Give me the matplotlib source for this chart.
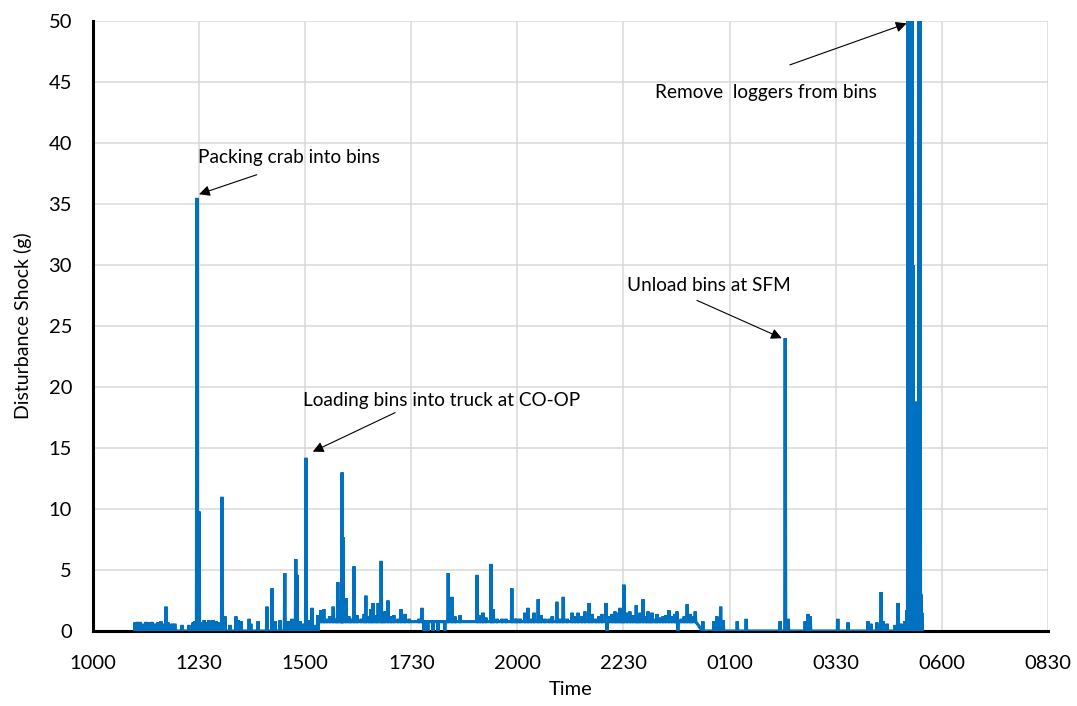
import matplotlib
matplotlib.use("Agg")
import matplotlib.pyplot as plt

plt.rcParams['font.family'] = ['Lato', 'DejaVu Sans']

# time in hours after 10:00 (day 1) -> 0830 next day = 22.5
tick_pos = [0, 2.5, 5, 7.5, 10, 12.5, 15, 17.5, 20, 22.5]
tick_labels = ['1000', '1230', '1500', '1730', '2000', '2230',
               '0100', '0330', '0600', '0830']

# baseline level of the logger between recorded shocks
base_start = [0.99, 5.30, 14.23]
base_end = [5.30, 14.23, 19.54]
base_level = [0.0, 0.77, 0.0]

# recorded shock peaks (hours after 10:00, g)
shock_t = [
    0.99, 1.04, 1.11, 1.16, 1.25, 1.32, 1.39, 1.46, 1.53, 1.60, 1.65, 1.72,
    1.77, 1.86, 1.93, 2.10, 2.26, 2.36, 2.40, 2.45, 2.50, 2.55, 2.62, 2.66,
    2.73, 2.78, 2.83, 2.90, 2.95, 3.04, 3.11, 3.23, 3.37, 3.42, 3.49, 3.68,
    3.72, 3.89, 4.10, 4.22, 4.29, 4.41, 4.52, 4.60, 4.69, 4.78, 4.81, 4.88,
    4.95, 5.02, 5.09, 5.16, 5.23, 5.30,
    5.37, 5.44, 5.51, 5.58, 5.66, 5.73, 5.77, 5.84, 5.87, 5.89, 5.96, 6.03,
    6.08, 6.15, 6.22, 6.32, 6.39, 6.43, 6.50, 6.55, 6.60, 6.67, 6.72, 6.79,
    6.83, 6.88, 6.95, 7.02, 7.09, 7.19, 7.26, 7.35, 7.45, 7.68, 7.75, 7.80,
    7.89, 8.01, 8.13, 8.29, 8.37, 8.46, 8.53, 8.65, 9.05, 9.12, 9.19, 9.26,
    9.38, 9.43, 9.52, 9.64, 9.73, 9.87, 9.94, 9.99, 10.06, 10.18, 10.25,
    10.32, 10.39, 10.49, 10.56, 10.65, 10.75, 10.82, 10.93, 11.00, 11.08,
    11.17, 11.29, 11.36, 11.43, 11.52, 11.59, 11.69, 11.76, 11.85, 11.92,
    11.99, 12.09, 12.11, 12.16, 12.23, 12.30, 12.35, 12.42, 12.47, 12.51,
    12.58, 12.65, 12.72, 12.80, 12.84, 12.89, 12.96, 13.03, 13.08, 13.13,
    13.17, 13.24, 13.29, 13.36, 13.43, 13.50, 13.57, 13.64, 13.71, 13.76,
    13.78, 13.86, 13.93, 14.00, 14.07, 14.11, 14.19,
    14.37, 14.63, 14.70, 14.79, 14.85, 15.18, 15.39, 16.19, 16.31, 16.38,
    16.78, 16.85, 16.90, 17.55, 17.79, 18.26, 18.33, 18.47, 18.57, 18.62,
    18.71, 18.90, 18.97, 19.04, 19.13, 19.18, 19.20, 19.23, 19.25, 19.27,
    19.30, 19.32, 19.35, 19.37, 19.39, 19.42, 19.44, 19.46, 19.49, 19.51,
    19.53,
]
shock_g = [
    0.7, 0.75, 0.75, 0.6, 0.75, 0.7, 0.75, 0.6, 0.7, 0.8, 0.6, 2.0,
    0.7, 0.6, 0.6, 0.5, 0.5, 0.7, 0.8, 35.5, 9.8, 0.7, 0.9, 0.7,
    0.9, 0.8, 0.9, 0.8, 0.7, 11.0, 1.2, 0.5, 1.2, 0.9, 0.8, 1.0,
    0.6, 0.8, 2.0, 3.5, 0.8, 0.9, 4.75, 0.8, 1.0, 5.9, 4.6, 0.8,
    0.6, 14.2, 0.9, 1.9, 0.5, 1.3,
    1.7, 1.8, 1.0, 1.2, 2.0, 1.0, 4.0, 2.5, 13.0, 7.7, 2.7, 1.2,
    1.0, 5.3, 1.3, 1.0, 1.4, 2.9, 1.2, 1.8, 2.3, 1.3, 2.3, 5.75,
    1.5, 1.6, 2.5, 1.2, 1.3, 1.0, 1.8, 1.4, 1.0, 1.0, 1.9, 0.0,
    0.0, 0.0, 0.0, 0.0, 4.75, 2.8, 1.2, 1.3, 4.6, 1.3, 1.5, 1.1,
    5.5, 1.8, 1.0, 1.0, 1.0, 3.5, 1.0, 1.0, 1.0, 1.5, 1.9,
    1.0, 1.5, 2.6, 1.3, 1.0, 1.0, 1.2, 2.4, 1.0, 2.8,
    1.0, 1.5, 1.2, 1.5, 1.2, 1.6, 2.3, 1.4, 1.0, 1.2,
    1.4, 2.3, 0.0, 1.2, 1.4, 1.6, 1.5, 1.9, 1.3, 3.8,
    1.5, 1.6, 1.3, 2.1, 1.4, 1.5, 2.6, 1.2, 1.6, 1.3,
    1.5, 1.0, 1.4, 1.1, 1.2, 1.3, 1.7, 1.2, 1.4, 1.6,
    0.0, 1.0, 1.2, 2.2, 1.4, 1.2, 1.6,
    0.8, 0.8, 1.2, 2.0, 0.9, 0.8, 1.0, 0.8, 24.0, 1.0,
    0.8, 1.4, 1.2, 1.0, 0.7, 0.8, 0.6, 0.7, 3.2, 0.8,
    0.6, 0.5, 2.3, 0.6, 0.8, 1.7, 60.0, 3.0, 60.0, 3.0,
    60.0, 30.0, 3.0, 3.1, 18.8, 3.0, 2.5, 60.0, 60.0, 3.0,
    1.5,
]

notes = ['Packing crab into bins', 'Loading bins into truck at CO-OP',
         'Unload bins at SFM', 'Remove  loggers from bins']
note_text_xy = [(2.47, 38.8), (4.95, 18.9), (12.58, 28.3), (13.24, 44.1)]
note_tail_xy = [(3.86, 37.4), (7.12, 17.9), (14.23, 27.1), (16.42, 46.4)]
note_tip_xy = [(2.50, 35.8), (5.18, 14.7), (16.23, 24.0), (19.17, 49.8)]


def level_at(t):
    for s, e, b in zip(base_start, base_end, base_level):
        if s <= t <= e:
            return b
    return 0.0


w = 0.012
xs, ys = [], []
for t, g in zip(shock_t, shock_g):
    b = level_at(t)
    xs += [t - w, t, t + w]
    ys += [b, g, b]
    if abs(t - 5.30) < 1e-6:
        xs.append(t + w)
        ys.append(base_level[1])
order = sorted(range(len(xs)), key=lambda i: xs[i])
xs = [xs[i] for i in order]
ys = [ys[i] for i in order]

fig = plt.figure(figsize=(10.77, 7.06), dpi=100)
ax = fig.add_axes([0.0863, 0.1062, 0.8867, 0.8641])
ax.plot(xs, ys, color='#0070C0', lw=2.3, solid_joinstyle='miter', zorder=3)

ax.set_xlim(0, 22.5)
ax.set_ylim(0, 50)
ax.set_xticks(tick_pos)
ax.set_xticklabels(tick_labels)
ax.set_yticks(range(0, 51, 5))
ax.tick_params(length=0, labelsize=14.5)
ax.tick_params(axis='x', pad=17)
ax.tick_params(axis='y', pad=15)
ax.grid(True, color='#d9d9d9', lw=1.1)
ax.set_axisbelow(True)
for side in ['top', 'right']:
    ax.spines[side].set_visible(False)
for side in ['left', 'bottom']:
    ax.spines[side].set_linewidth(2.2)
    ax.spines[side].set_color('black')
    ax.spines[side].set_zorder(2)

ax.set_xlabel('Time', fontsize=14.5, labelpad=7)
ax.set_ylabel('Disturbance Shock (g)', fontsize=14, labelpad=12)

for txt, pt, tail, tip in zip(notes, note_text_xy, note_tail_xy, note_tip_xy):
    ax.text(pt[0], pt[1], txt, fontsize=13.7, ha='left', va='center', zorder=5)
    ax.annotate('', xy=tip, xytext=tail,
                arrowprops=dict(arrowstyle='-|>', color='black', lw=0.8,
                                mutation_scale=16, shrinkA=0, shrinkB=0),
                zorder=5, annotation_clip=False)

fig.savefig('out.png', dpi=100)
